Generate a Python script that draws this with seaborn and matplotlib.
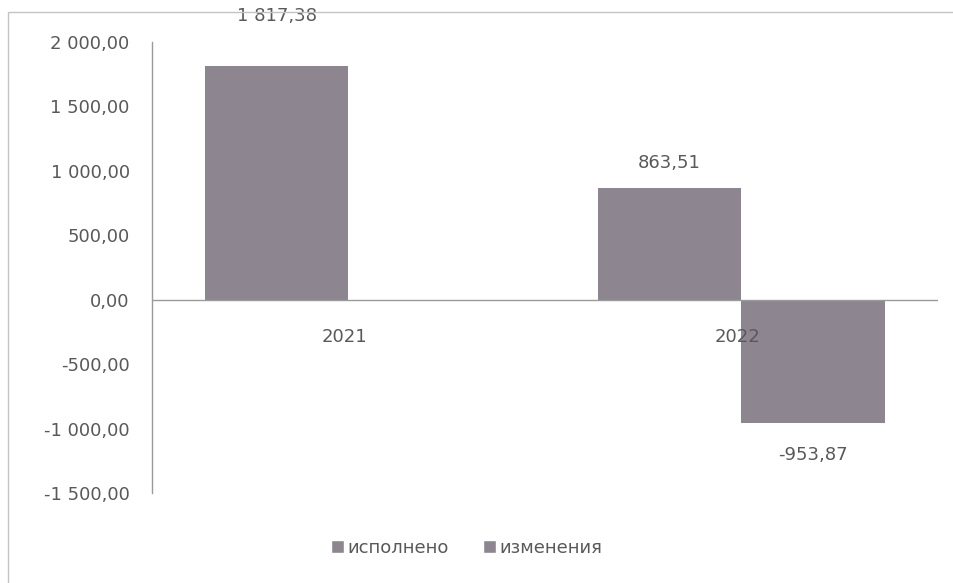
import numpy as np
import pandas as pd
import matplotlib
matplotlib.use('Agg')
import matplotlib.pyplot as plt
from matplotlib.patches import Rectangle, Patch
import seaborn as sns

# chart data
years = ['2021', '2022']
series = ['исполнено', 'изменения']
done = [1817.38, 863.51]
changes = [np.nan, -953.87]

bar_color = '#8d8690'
text_color = '#595959'

df = pd.DataFrame({
    'year': years * 2,
    'series': [series[0]] * 2 + [series[1]] * 2,
    'value': done + changes,
})

sns.set_style('white')
plt.rcParams['font.family'] = ['DejaVu Sans']

fig = plt.figure(figsize=(9.54, 5.83), dpi=100)
ax = fig.add_axes([0.1593, 0.1544, 0.983 - 0.1593, 0.928 - 0.1544])

sns.barplot(data=df, x='year', y='value', hue='series', order=years,
            hue_order=series, palette=[bar_color, bar_color], width=0.73,
            saturation=1, legend=False, linewidth=0, ax=ax)

ax.set_xlim(-0.5, 1.5)
ax.set_ylim(-1500, 2000)
ax.set_yticks(np.arange(-1500, 2001, 500))


def fmt(v):
    s = f'{abs(v):,.2f}'.replace(',', ' ').replace('.', ',')
    return ('-' if v < 0 else '') + s


ax.set_yticklabels([fmt(v) for v in ax.get_yticks()], color=text_color, fontsize=13)
ax.tick_params(axis='y', length=0, pad=16)
ax.set_xticks([])
ax.set_xlabel('')
ax.set_ylabel('')

for side in ['top', 'right', 'bottom']:
    ax.spines[side].set_visible(False)
ax.spines['left'].set_color('#9a9a9a')
ax.spines['left'].set_linewidth(1.0)
ax.axhline(0, color='#9a9a9a', linewidth=1.0, zorder=3)

# category labels under the zero line
for i, y in enumerate(years):
    ax.annotate(y, (i, 0), xytext=(-3, -27), textcoords='offset points',
                ha='center', va='center', color=text_color, fontsize=13)

# value labels (offsets in points; label of first bar sits higher in the original)
label_offsets = {(0, 0): 36, (0, 1): 18, (1, 1): -23}
for si, container in enumerate(ax.containers):
    for bar in container:
        h = bar.get_height()
        if np.isnan(h) or h == 0:
            continue
        xc = bar.get_x() + bar.get_width() / 2
        ci = int(round(xc))
        ax.annotate(fmt(h), (xc, h), xytext=(0, label_offsets.get((si, ci), 18 if h > 0 else -23)),
                    textcoords='offset points', ha='center', va='center',
                    color=text_color, fontsize=13)

handles = [Patch(facecolor=bar_color, label=s) for s in series]
fig.legend(handles=handles, loc='center', bbox_to_anchor=(0.489, 0.06), ncol=2,
           frameon=False, fontsize=13, handlelength=0.7, handleheight=0.7,
           handletextpad=0.2, columnspacing=1.9, labelcolor=text_color)

# outer chart frame
fig.add_artist(Rectangle((8 / 954, -0.05), 1.1, 1.0 - 12 / 583 + 0.05,
                         transform=fig.transFigure, fill=False,
                         edgecolor='#c4c4c4', linewidth=1.0))

fig.savefig('out.png', dpi=100, facecolor='white')
